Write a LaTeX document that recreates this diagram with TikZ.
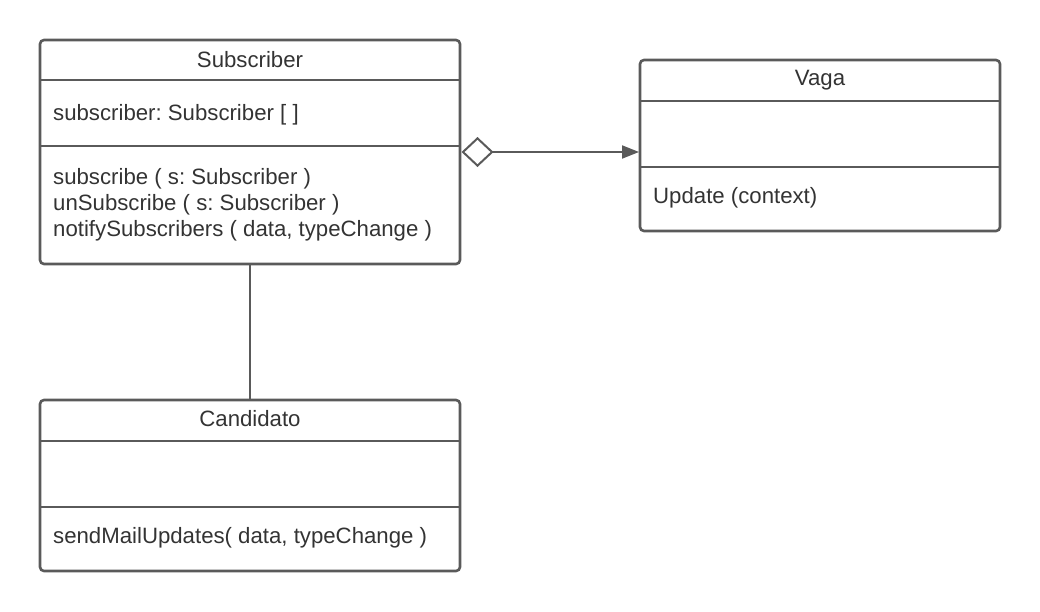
\documentclass[tikz,border=0pt]{standalone}
\usepackage{fontspec}
\setmainfont{Liberation Sans}
\usetikzlibrary{arrows.meta,shapes.geometric}
\definecolor{ln}{HTML}{5A5A5A}
\definecolor{tx}{HTML}{333333}
\frenchspacing
\begin{document}
\begin{tikzpicture}[x=1pt,y=-1pt,
  box/.style={draw=ln,line width=2.6pt,rounded corners=4pt},
  sep/.style={draw=ln,line width=2.6pt},
  ttl/.style={font=\fontsize{22.2}{26}\selectfont,text=tx,anchor=center,inner sep=0pt},
  itm/.style={font=\fontsize{22.2}{26}\selectfont,text=tx,anchor=base west,inner sep=0pt},
  conn/.style={draw=ln,line width=2pt}]
\useasboundingbox (0,0) rectangle (1040,611);
% Subscriber
\draw[box] (40,40) rectangle (460,264);
\draw[sep] (40,80) -- (460,80);
\draw[sep] (40,146) -- (460,146);
\node[ttl] (subT) at (250,60) {Subscriber};
\node[itm] (subA) at (53,120) {subscriber: Subscriber [ ]};
\node[itm] (subM1) at (53,184) {subscribe ( s: Subscriber )};
\node[itm] (subM2) at (53,210) {unSubscribe ( s: Subscriber )};
\node[itm] (subM3) at (53,236) {notifySubscribers ( data, typeChange )};
% Vaga
\draw[box] (640,60) rectangle (1000,231);
\draw[sep] (640,101) -- (1000,101);
\draw[sep] (640,167) -- (1000,167);
\node[ttl] (vagT) at (820,80) {Vaga};
\node[itm] (vagM) at (653,203) {Update (context)};
% Candidato
\draw[box] (40,400) rectangle (460,571);
\draw[sep] (40,441) -- (460,441);
\draw[sep] (40,507) -- (460,507);
\node[ttl] (canT) at (250,419) {Candidato};
\node[itm] (canM) at (53,543) {sendMailUpdates( data, typeChange )};
% connectors
\coordinate (s1) at (461.5,152);
\coordinate (v1) at (639,152);
\coordinate (s2) at (250,265);
\coordinate (c2) at (250,399);
\draw[conn,{Diamond[open,length=32pt,width=30pt,line width=2pt]}-{Triangle[length=17pt,width=13pt]}] (s1) -- (v1);
\draw[conn] (s2) -- (c2);
\end{tikzpicture}
\end{document}
